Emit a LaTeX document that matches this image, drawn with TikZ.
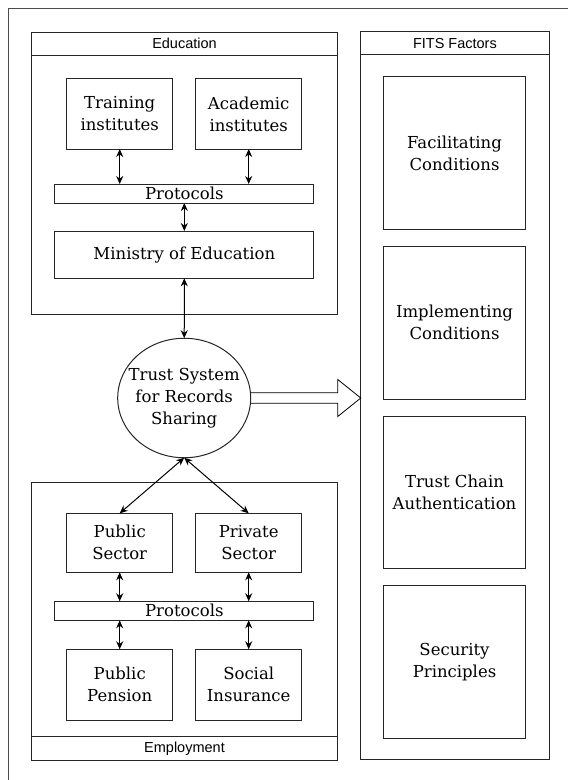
\documentclass[tikz,border=0pt]{standalone}
\usepackage{fontspec}
\setmainfont{DejaVu Serif}
\setsansfont{Liberation Sans}
\usetikzlibrary{positioning,calc,arrows.meta,shapes.geometric}

\begin{document}
\begin{tikzpicture}[x=1pt, y=-1pt, line width=1pt, >={Stealth[length=8pt,width=7pt]},
		frame/.style={draw=black!85, outer sep=0pt, inner sep=0pt},
		head/.style={frame, font=\sffamily\fontsize{14.5}{17}\selectfont},
		box/.style={frame, align=center, font=\fontsize{16.5}{22}\selectfont},
		part/.style={box, minimum width=106pt, minimum height=70.3pt},
		bar/.style={box, minimum width=258.7pt, minimum height=19pt},
		factor/.style={box, minimum width=141.6pt, minimum height=152.7pt}]
		\useasboundingbox (0,0) rectangle (568,780);
		\draw[black!70, line width=0.8pt] (8,790) -- (8,8) -- (580,8);
		% education
		\node[head, minimum width=305.6pt, minimum height=22.7pt] (edu) at (184.5,43.7) {Education};
		\node[frame, minimum width=305.6pt, minimum height=259pt, below=0pt of edu] (edubody) {};
		\node[part] (train) at (119.7,113.9) {Training\\institutes};
		\node[part, right=23pt of train] (acad) {Academic\\institutes};
		\node[bar] (prot1) at (184.3,193.5) {Protocols};
		\node[box, minimum width=258.7pt, minimum height=47.3pt, below=28pt of prot1] (min) {Ministry of Education};
		% trust system
		\node[frame, ellipse, minimum width=133pt, minimum height=119.5pt,
			label={[box, draw=none]center:Trust System\\for Records\\Sharing}] (circ) at (184.2,398) {};
		% employment
		\node[frame, minimum width=305.6pt, minimum height=254pt] (empbody) at (184.5,609.7) {};
		\node[head, minimum width=305.6pt, minimum height=23.3pt, below=0pt of empbody] (emp) {Employment};
		\node[part, minimum height=59pt] (pubsec) at (119.7,542.8) {Public\\Sector};
		\node[part, minimum height=59pt, right=23pt of pubsec] (privsec) {Private\\Sector};
		\node[bar] (prot2) at (184.3,610.8) {Protocols};
		\node[part, minimum height=71pt] (pension) at (119.7,684.8) {Public\\Pension};
		\node[part, minimum height=71pt, right=23pt of pension] (social) {Social\\Insurance};
		% fits factors
		\node[head, minimum width=188.3pt, minimum height=23.3pt] (fits) at (454.9,43.3) {FITS Factors};
		\node[frame, minimum width=188.3pt, minimum height=705pt, below=0pt of fits] (fitsbody) {};
		\node[factor] (facil) at (454.5,153) {Facilitating\\Conditions};
		\node[factor, below=17pt of facil] (impl) {Implementing\\Conditions};
		\node[factor, below=17pt of impl] (chain) {Trust Chain\\Authentication};
		\node[factor, below=17pt of chain] (secur) {Security\\Principles};
		\path[<->] (train.south) edge (train.south |- prot1.north)
		      (acad.south) edge (acad.south |- prot1.north)
		      (prot1) edge (min)
		      (min) edge (circ)
		      (circ.south) edge (pubsec.north)
		                   edge (privsec.north)
		      (pubsec.south) edge (pubsec.south |- prot2.north)
		      (privsec.south) edge (privsec.south |- prot2.north)
		      (pension.north |- prot2.south) edge (pension.north)
		      (social.north |- prot2.south) edge (social.north);
		\coordinate (tip) at (fitsbody.west |- circ.east);
		\draw[line width=0.8pt] ($(circ.east)+(0,-5.3)$) -- ($(tip)+(-23,-5.3)$) -- ($(tip)+(-23,-18.5)$) -- (tip)
			-- ($(tip)+(-23,18.5)$) -- ($(tip)+(-23,5.3)$) -- ($(circ.east)+(0,5.3)$);
	\end{tikzpicture}
\end{document}
